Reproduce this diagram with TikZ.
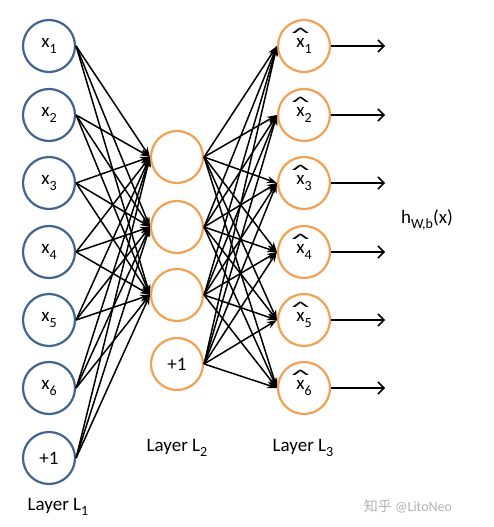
\documentclass[tikz,border=0pt]{standalone}
\usepackage{fontspec}
\setmainfont{Carlito}
\newfontfamily\cjk{Noto Sans CJK SC}
\usetikzlibrary{arrows.meta}
\definecolor{inblue}{RGB}{66,100,142}
\definecolor{unitorange}{RGB}{240,162,84}
\tikzset{
  unit/.style={circle, line width=2.2pt, minimum size=52pt, inner sep=0pt,
    font=\fontsize{19}{21}\selectfont},
  inunit/.style={unit, draw=inblue},
  hidunit/.style={unit, draw=unitorange},
  link/.style={line width=1.5pt, -{Stealth[length=10pt,width=7pt]}},
  outarrow/.style={line width=1.5pt, -{Straight Barb[length=6pt,width=12pt,line width=1.5pt]}},
  layerlabel/.style={font=\fontsize{19}{21}\selectfont}
}
\newcommand{\lsub}[1]{\raisebox{-0.28em}{\fontsize{14}{15}\selectfont #1}}
\newcommand{\xhat}[1]{\ooalign{x\cr\hidewidth\raisebox{0.5em}{\scalebox{2.1}[0.8]{\textasciicircum}}\hidewidth\cr}\lsub{#1}}
\begin{document}
\begin{tikzpicture}[x=1pt,y=-1pt]
\useasboundingbox (0,0) rectangle (493,527);

% input layer
\node[inunit] (x1) at (49,46) {x\lsub{1}};
\node[inunit] (x2) at (49,115) {x\lsub{2}};
\node[inunit] (x3) at (49,183) {x\lsub{3}};
\node[inunit] (x4) at (49,252) {x\lsub{4}};
\node[inunit] (x5) at (49,320) {x\lsub{5}};
\node[inunit] (x6) at (49,388) {x\lsub{6}};
\node[inunit] (b1) at (49,458) {+1};

% hidden layer
\node[hidunit] (h1) at (177,157) {};
\node[hidunit] (h2) at (177,227) {};
\node[hidunit] (h3) at (177,295) {};
\node[hidunit] (b2) at (177,364) {+1};

% output layer
\node[hidunit] (o1) at (304,46) {\xhat{1}};
\node[hidunit] (o2) at (304,115) {\xhat{2}};
\node[hidunit] (o3) at (304,183) {\xhat{3}};
\node[hidunit] (o4) at (304,252) {\xhat{4}};
\node[hidunit] (o5) at (304,320) {\xhat{5}};
\node[hidunit] (o6) at (304,388) {\xhat{6}};

\foreach \s in {x1,x2,x3,x4,x5,x6,b1}
  \foreach \t in {h1,h2,h3}
    \draw[link] (\s.east) -- (\t.west);

\foreach \s in {h1,h2,h3,b2}
  \foreach \t in {o1,o2,o3,o4,o5,o6}
    \draw[link] (\s.east) -- (\t.west);

\foreach \t/\y in {o1/46,o2/115,o3/183,o4/252,o5/320,o6/388} {
  \coordinate (e\t) at (385,\y);
  \draw[outarrow] (\t.east) -- (e\t);
}

\node[layerlabel] (hx) at (427,220) {h\lsub{W,b}(x)};

\node[layerlabel] (l1) at (58,507) {Layer L\lsub{1}};
\node[layerlabel] (l2) at (177,448) {Layer L\lsub{2}};
\node[layerlabel] (l3) at (303,448) {Layer L\lsub{3}};

\node[text=black!30, font=\fontsize{14}{16}\selectfont] (mark) at (408,506) {{\cjk 知乎} @LitoNeo};
\end{tikzpicture}
\end{document}
